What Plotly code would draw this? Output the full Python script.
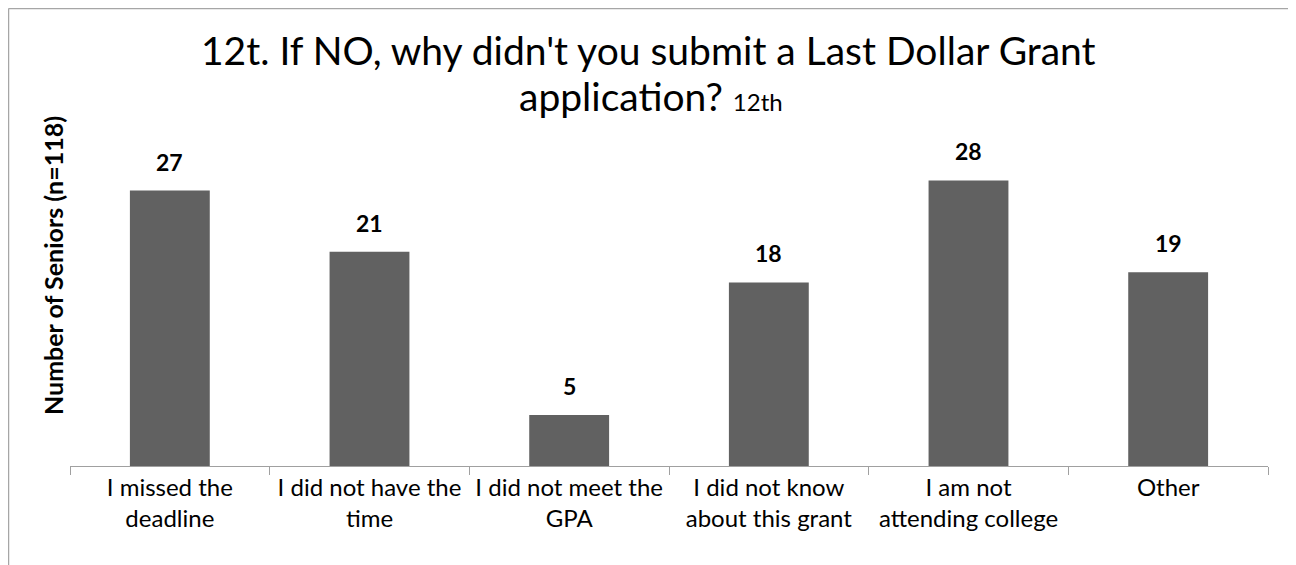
import plotly.graph_objects as go

categories = ["I missed the<br>deadline", "I did not have the<br>time", "I did not meet the<br>GPA",
              "I did not know<br>about this grant", "I am not<br>attending college", "Other"]
values = [27, 21, 5, 18, 28, 19]

# page body has an 8px margin; figure sized so it fills the window exactly
W, H = 1288, 557
L, R, T, B = 62, 28, 152, 99
pw, ph = W - L - R, H - T - B
FONT = "Lato"


def px_x(x):
    return (x - L) / pw


def px_y(y):
    return (H - B - y) / ph


fig = go.Figure()
fig.add_trace(go.Bar(x=categories, y=values, marker=dict(color="#616161", line=dict(width=0)),
                     width=0.4, hoverinfo="x+y"))

for c, v in zip(categories, values):
    fig.add_annotation(x=c, y=v, text=f"<b>{v}</b>", showarrow=False, yanchor="bottom", yshift=13,
                       font=dict(family=FONT, size=23, color="#000000"))

fig.add_annotation(xref="paper", yref="paper", x=px_x(45), y=px_y(258), xanchor="center", yanchor="middle",
                   text="<b>Number of Seniors (n=118)</b>", textangle=-90, showarrow=False,
                   font=dict(family=FONT, size=25, color="#000000"))

fig.add_annotation(xref="paper", yref="paper", x=px_x(640), y=px_y(42), xanchor="center", yanchor="middle",
                   text="12t. If NO, why didn't you submit a Last Dollar Grant", showarrow=False,
                   font=dict(family=FONT, size=39, color="#000000"))
fig.add_annotation(xref="paper", yref="paper", x=px_x(643), y=px_y(88), xanchor="center", yanchor="middle",
                   text="application? <span style='font-size:24px'>12th</span>", showarrow=False,
                   font=dict(family=FONT, size=39, color="#000000"))

# chart border (left and top)
fig.add_shape(type="line", xref="paper", yref="paper", x0=px_x(0.5), x1=px_x(0.5),
              y0=px_y(H), y1=px_y(0.5), line=dict(color="#A6A6A6", width=1.5))
fig.add_shape(type="line", xref="paper", yref="paper", x0=px_x(0.5), x1=px_x(W),
              y0=px_y(0.5), y1=px_y(0.5), line=dict(color="#A6A6A6", width=1.5))

fig.update_layout(
    width=W, height=H, margin=dict(l=L, r=R, t=T, b=B, autoexpand=False),
    paper_bgcolor="white", plot_bgcolor="white", showlegend=False,
    xaxis=dict(showline=True, linecolor="#A0A0A0", linewidth=1.3, ticks="outside", tickson="boundaries",
               ticklen=8, tickcolor="#A0A0A0", tickwidth=1.3, tickangle=0,
               tickfont=dict(family=FONT, size=24, color="#000000"), showgrid=False),
    yaxis=dict(range=[0, 30], showticklabels=False, showgrid=False, showline=False, zeroline=False, ticks=""),
)

fig.write_html("out.html")
